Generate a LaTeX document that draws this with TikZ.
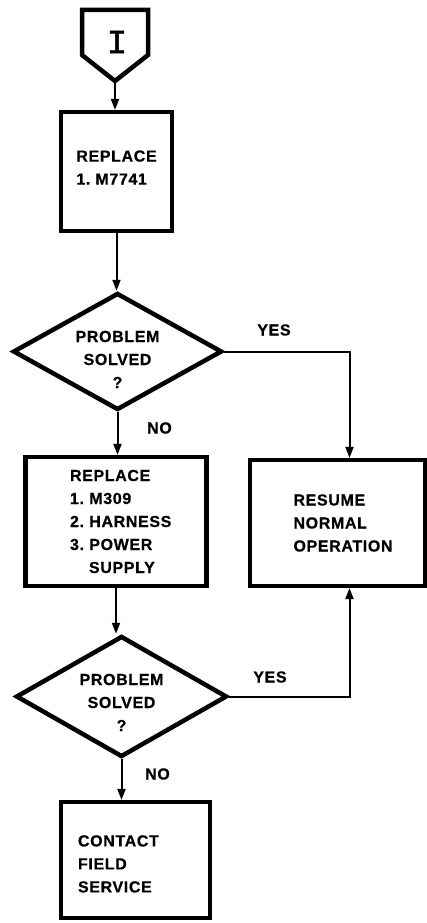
\documentclass[tikz,border=0pt]{standalone}
\usepackage{fontspec}
\setmainfont{Liberation Sans}[LetterSpace=4,BoldFeatures={FakeBold=0.6}]
\newfontfamily\monoI{Liberation Mono}[FakeBold=1.5]
\usetikzlibrary{arrows.meta,shapes.geometric}
\begin{document}
\begin{tikzpicture}[x=1pt,y=-1pt,
  txt/.style={font=\fontsize{16}{23}\selectfont\bfseries},
  box/.style={draw,line width=4.2pt,rectangle,inner sep=0pt,txt,align=left},
  dec/.style={draw,line width=4.5pt,diamond,aspect=1.5,inner xsep=-10pt,inner ysep=0pt,txt,align=center},
  conn/.style={line width=2pt},
  arr/.style={conn,-{Triangle[length=11pt,width=8pt]}},
  lbl/.style={txt,inner sep=0pt}]
\useasboundingbox (0,0) rectangle (427,923);
% off-page connector
\draw[line width=4.5pt,line join=miter] (82,10) -- (148,10) -- (148,55) -- (115,81) -- (82,55) -- cycle;
\node[inner sep=0pt,font=\monoI\fontsize{34}{34}\selectfont] (conI) at (117,42) {I};
\coordinate (ptip) at (115,82);
% boxes
\node[box,minimum width=111,minimum height=119] (b1) at (116.5,171.5) {REPLACE\\1.~M7741\rule[-8pt]{0pt}{0pt}};
\node[dec,minimum width=209,minimum height=117] (d1) at (117.5,351.5) {\rule{0pt}{27pt}PROBLEM\\SOLVED\\?};
\node[box,minimum width=181,minimum height=129,text width=92] (b2) at (116,521.5)
  {REPLACE\\1.~M309\\\mbox{2.~HARNESS}\\3.~POWER\\\hspace*{19pt}SUPPLY};
\node[box,minimum width=175,minimum height=126,text width=88] (r) at (337.5,523)
  {RESUME\\NORMAL\\OPERATION};
\node[dec,minimum width=211,minimum height=121] (d2) at (121.5,696.5) {\rule{0pt}{23pt}PROBLEM\\SOLVED\\?};
\node[box,minimum width=149,minimum height=116,text width=115] (b3) at (135.5,860)
  {\rule{0pt}{19pt}CONTACT\\FIELD\\SERVICE};
% connectors
\draw[arr] (ptip) -- (ptip |- b1.north);
\draw[arr] (b1.south) -- (b1.south |- d1.north);
\draw[arr] (d1.south) -- (d1.south |- b2.north);
\draw[arr] (b2.south) -- (b2.south |- d2.north);
\draw[arr] (d2.south) -- (d2.south |- b3.north);
\draw[arr] (d1.east) -| ([xshift=12pt]r.north);
\draw[arr] (d2.east) -| ([xshift=12pt]r.south);
% labels
\node[lbl] (yes1) at (274,330) {YES};
\node[lbl] (no1) at (159.5,428) {NO};
\node[lbl] (yes2) at (270,677) {YES};
\node[lbl] (no2) at (157.5,774) {NO};
\end{tikzpicture}
\end{document}
